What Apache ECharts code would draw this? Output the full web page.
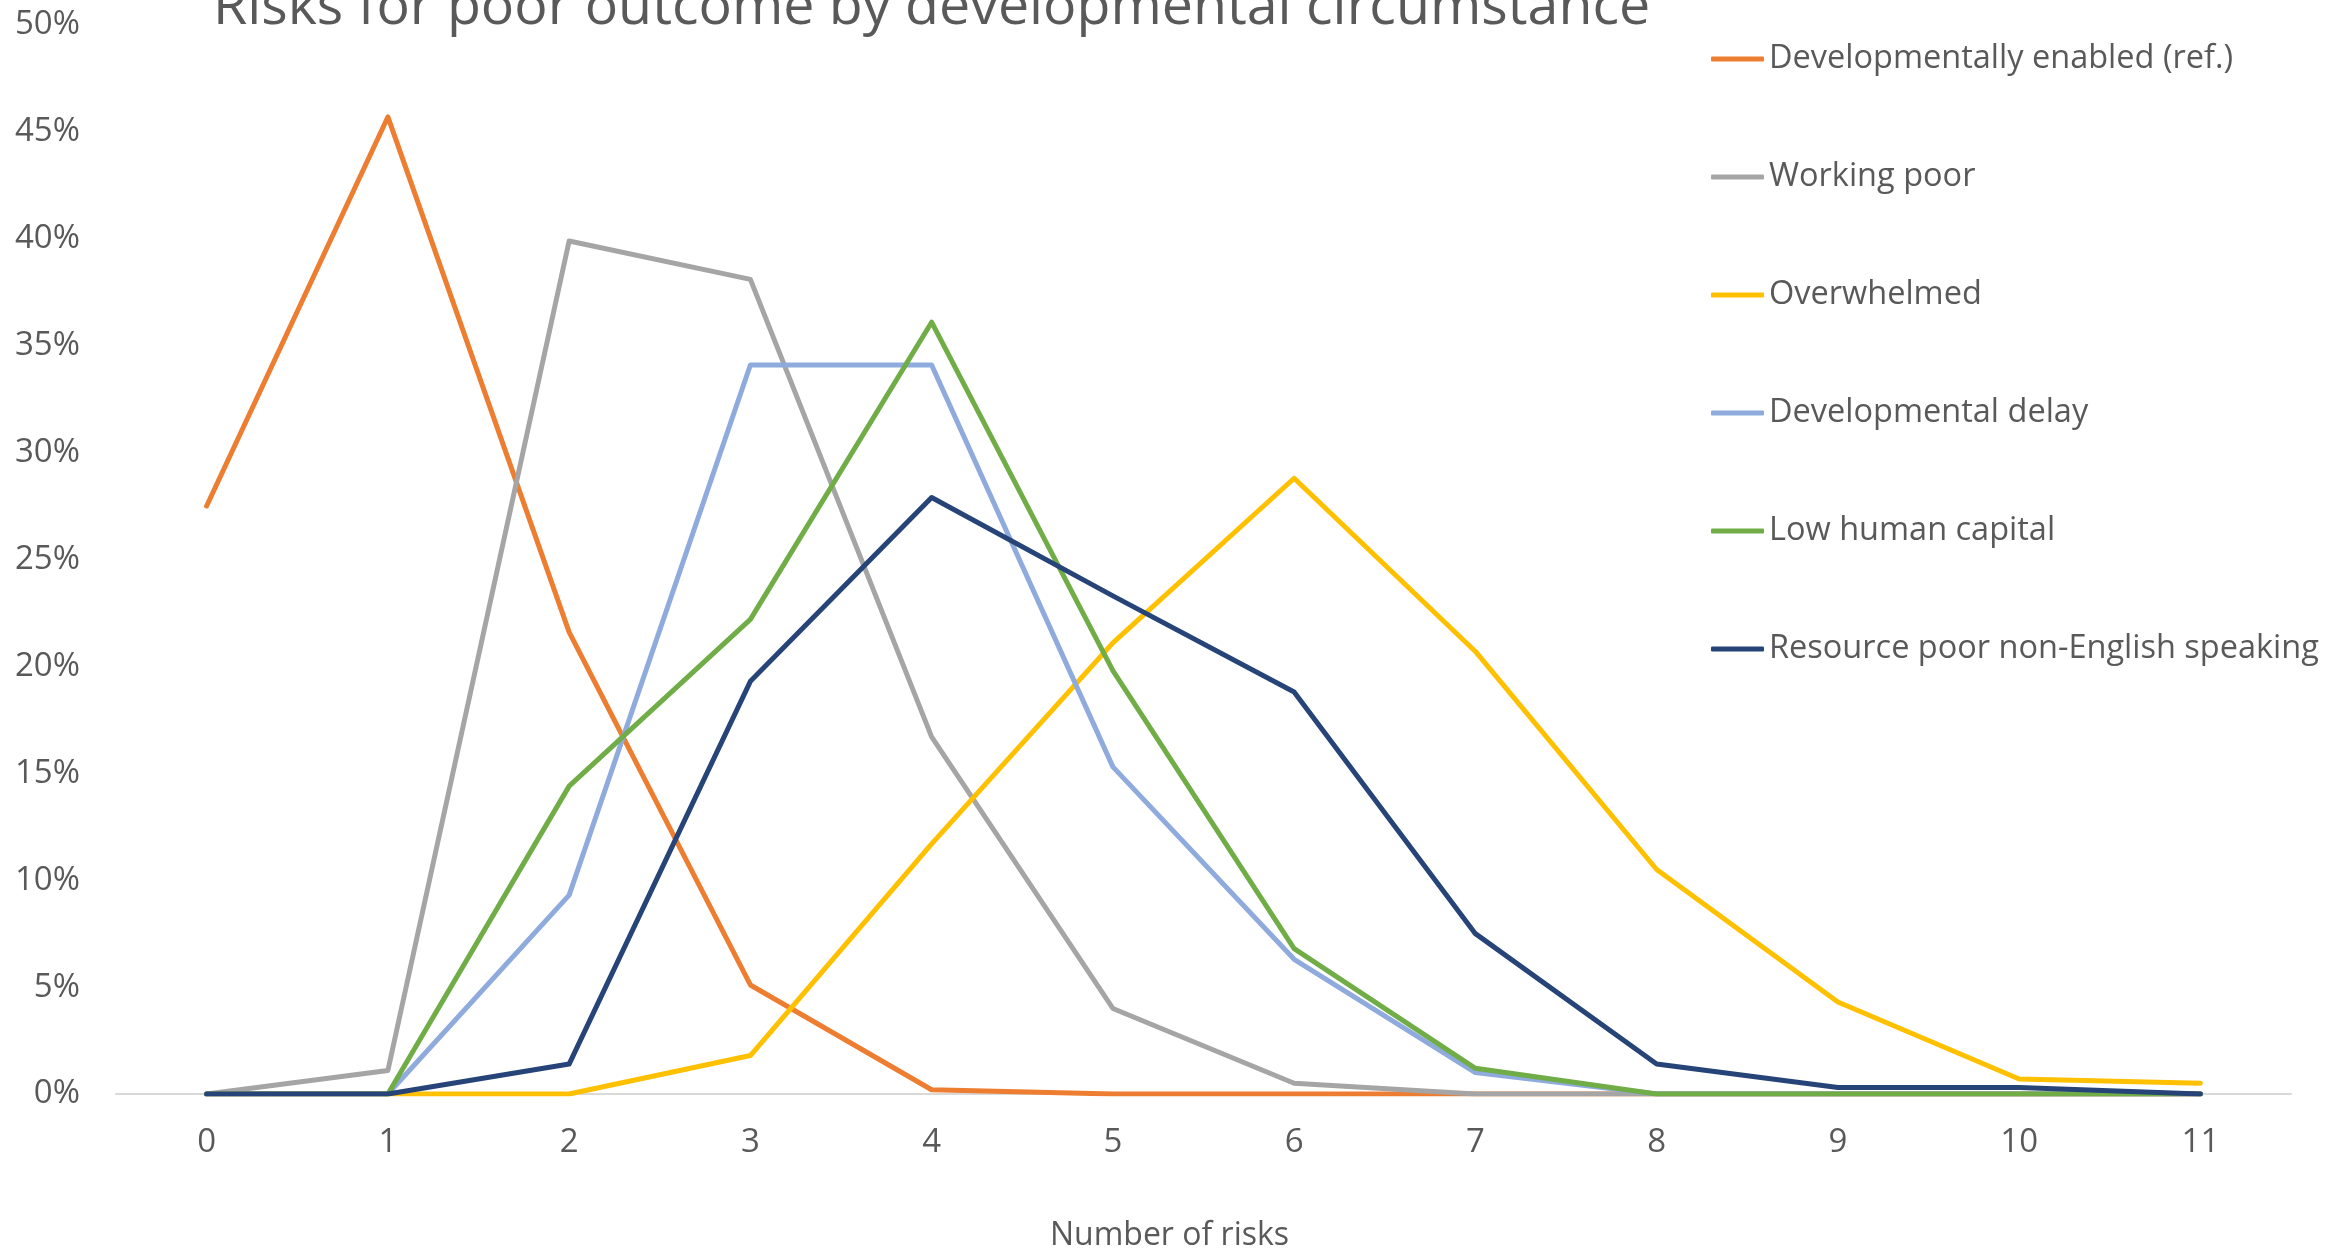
<!DOCTYPE html>
<html>
<head>
<meta charset="utf-8">
<script src="https://cdn.jsdelivr.net/npm/echarts@6/dist/echarts.min.js"></script>
<style>
html,body{margin:0;padding:0;background:#fff;}
#chart{width:2346px;height:1257px;}
</style>
</head>
<body>
<div id="chart"></div>
<script>
var categories = ['0','1','2','3','4','5','6','7','8','9','10','11'];
var seriesNames = ['Developmentally enabled (ref.)','Working poor','Overwhelmed','Developmental delay','Low human capital','Resource poor non-English speaking'];
var developmentallyEnabled = [27.5, 45.7, 21.6, 5.1, 0.2, 0, 0, 0, 0, 0, 0, 0];
var workingPoor            = [0, 1.1, 39.9, 38.1, 16.7, 4.0, 0.5, 0, 0, 0, 0, 0];
var overwhelmed            = [0, 0, 0, 1.8, 11.7, 21.1, 28.8, 20.7, 10.5, 4.3, 0.7, 0.5];
var developmentalDelay     = [0, 0, 9.3, 34.1, 34.1, 15.3, 6.3, 1.0, 0, 0, 0, 0];
var lowHumanCapital        = [0, 0, 14.4, 22.2, 36.1, 19.8, 6.8, 1.2, 0, 0, 0, 0];
var resourcePoorNonEnglish = [0, 0, 1.4, 19.3, 27.9, 23.3, 18.8, 7.5, 1.4, 0.3, 0.3, 0];
var colors = ['#ED7D31','#A5A5A5','#FFC000','#8FAADC','#70AD47','#264478'];
var allData = [developmentallyEnabled, workingPoor, overwhelmed, developmentalDelay, lowHumanCapital, resourcePoorNonEnglish];

var font = 'Open Sans';
var textColor = '#595959';

var chart = echarts.init(document.getElementById('chart'));
chart.setOption({
  animation: false,
  backgroundColor: '#ffffff',
  color: colors,
  title: {
    text: 'Risks for poor outcome by developmental circumstance',
    left: 208,
    top: -25,
    textStyle: { fontFamily: font, fontSize: 55.5, fontWeight: 'normal', color: textColor }
  },
  legend: {
    orient: 'vertical',
    left: 1706,
    top: 34,
    icon: 'roundRect',
    itemWidth: 53,
    itemHeight: 5,
    itemGap: 78,
    textStyle: { fontFamily: font, fontSize: 32.5, color: textColor, lineHeight: 40 },
    data: seriesNames
  },
  grid: { left: 116, right: 55, top: 25, bottom: 159, containLabel: false },
  xAxis: {
    type: 'category',
    data: categories,
    boundaryGap: true,
    name: 'Number of risks',
    nameLocation: 'middle',
    nameGap: 126,
    nameTextStyle: { fontFamily: font, fontSize: 32, color: textColor, padding: [0, 68, 0, 0] },
    axisLine: { show: true, lineStyle: { color: '#D9D9D9', width: 2 } },
    axisTick: { show: false },
    axisLabel: { fontFamily: font, fontSize: 33, color: textColor, margin: 32 },
    splitLine: { show: false }
  },
  yAxis: {
    type: 'value',
    min: 0,
    max: 50,
    interval: 5,
    axisLine: { show: false },
    axisTick: { show: false },
    splitLine: { show: false },
    axisLabel: { fontFamily: font, fontSize: 33, color: textColor, margin: 36, formatter: '{value}%' }
  },
  series: seriesNames.map(function (name, i) {
    return {
      name: name,
      type: 'line',
      data: allData[i],
      symbol: 'none',
      showSymbol: false,
      lineStyle: { width: 5, color: colors[i], cap: 'round', join: 'round' },
      itemStyle: { color: colors[i] }
    };
  })
});
</script>
</body>
</html>
